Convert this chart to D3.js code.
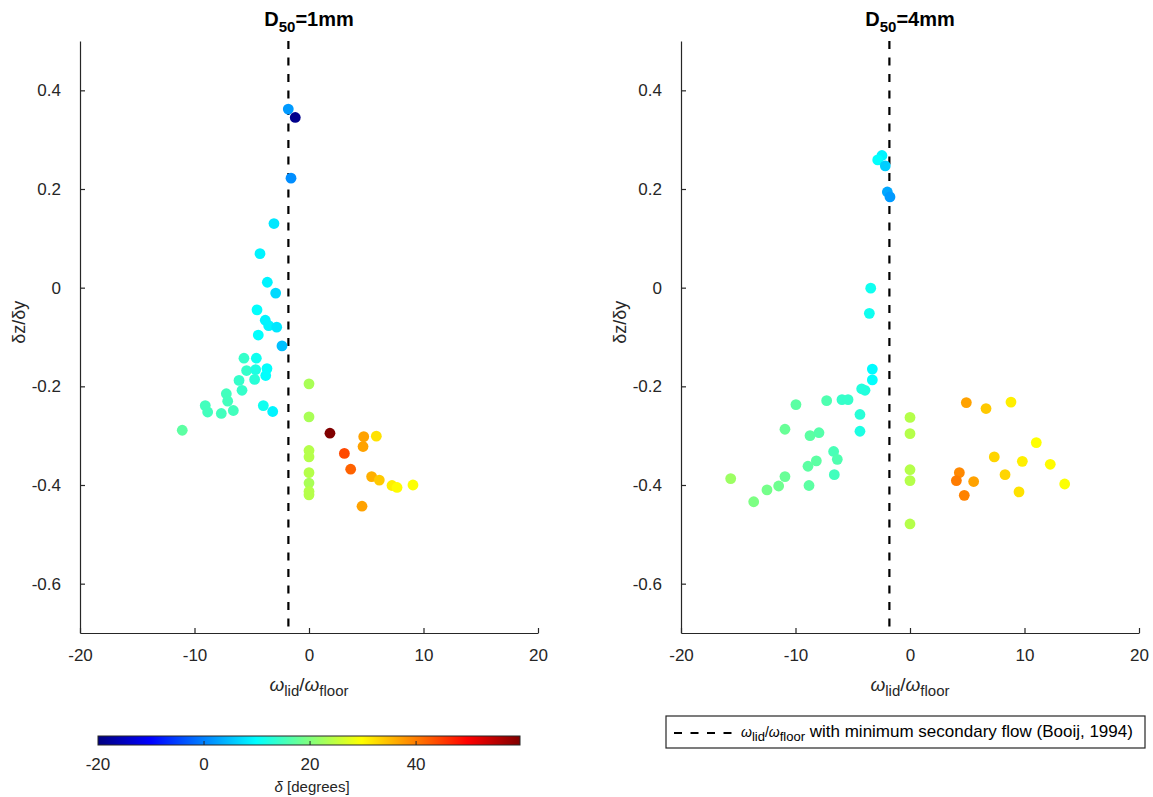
<!DOCTYPE html>
<html>
<head>
<meta charset="utf-8">
<script src="https://cdn.jsdelivr.net/npm/d3@7"></script>
<style>
  body { margin: 0; background: #fff; }
  svg { font-family: "Liberation Sans", Arial, sans-serif; }
</style>
</head>
<body>
<div id="chart"></div>
<script>
// DATA
const xTicks = [-20, -10, 0, 10, 20];
const yTicks = [0.4, 0.2, 0, -0.2, -0.4, -0.6];
const cbTicks = [-20, 0, 20, 40];
const booijLine = -1.8;

// D50 = 1mm
const d1X = [-1.81, -1.20, -1.57, -3.06, -4.28, -3.64, -2.91, -4.54, -3.82, -3.52, -2.82, -4.43, -2.36,
  -5.68, -4.60, -5.45, -4.66, -3.67, -3.78, -4.75, -6.11, -5.85, -7.22, -7.10, -6.61, -9.06, -8.85,
  -7.66, -3.99, -3.17, -11.07, 0, 0, 0, 0, 0, 0, 0, 0,
  1.83, 4.78, 5.88, 4.72, 3.09, 3.64, 5.47, 6.14, 7.25, 7.69, 9.08, 4.63];
const d1Y = [0.362, 0.345, 0.222, 0.130, 0.069, 0.011, -0.011, -0.045, -0.066, -0.077, -0.080, -0.096, -0.118,
  -0.143, -0.143, -0.168, -0.166, -0.164, -0.178, -0.186, -0.188, -0.208, -0.215, -0.230, -0.249, -0.239, -0.252,
  -0.255, -0.239, -0.251, -0.289, -0.195, -0.262, -0.330, -0.343, -0.375, -0.396, -0.413, -0.420,
  -0.295, -0.302, -0.301, -0.322, -0.336, -0.368, -0.383, -0.390, -0.401, -0.405, -0.400, -0.443];
const d1Delta = [2, -19, 1, 8, 9, 9, 7, 10, 9, 9, 8, 10, 5,
  14, 11, 14, 12, 10, 10, 13, 14, 14, 15, 15, 15, 15, 15,
  15, 11, 9, 17, 23, 23, 24, 24, 24, 23, 24, 24,
  59.6, 37, 32, 37, 44, 42, 36, 34, 31, 30, 29.5, 37];

// D50 = 4mm
const d4X = [-2.45, -2.82, -2.16, -1.98, -1.75, -3.43, -3.55, -3.29, -3.29, -4.22, -3.93, -9.96, -7.28,
  -5.94, -5.41, -4.37, -4.37, -10.92, -8.73, -7.95, -6.67, -6.35, -8.18, -8.91, -6.61, -10.92, -11.47,
  -8.82, -15.66, -12.49, -13.65, 0, 0, 0, 0, 0,
  4.92, 6.64, 8.82, 11.03, 7.36, 9.81, 12.25, 13.51, 8.30, 9.52, 4.31, 4.05, 5.56, 4.74];
const d4Y = [0.268, 0.259, 0.247, 0.194, 0.184, -0.001, -0.052, -0.165, -0.187, -0.205, -0.208, -0.237, -0.229,
  -0.227, -0.227, -0.257, -0.291, -0.287, -0.300, -0.294, -0.332, -0.348, -0.351, -0.362, -0.379, -0.383, -0.402,
  -0.401, -0.387, -0.410, -0.434, -0.263, -0.296, -0.369, -0.391, -0.479,
  -0.233, -0.245, -0.232, -0.314, -0.343, -0.352, -0.358, -0.398, -0.379, -0.414, -0.375, -0.391, -0.393, -0.421];
const d4Delta = [9, 10, 6, 3, 2, 11, 11, 9.5, 10, 12.5, 12.5, 17, 16,
  14, 14, 13, 12, 18, 17, 16.5, 15.5, 16, 17, 17, 15, 18, 18.5,
  17, 22, 19, 19.5, 24, 24, 24, 24, 24,
  37, 34, 31, 29.7, 33, 31, 30, 29.5, 33, 32, 39, 40, 37, 39.5];

const W = 1153, H = 797;
const AX_COLOR = "#262626";

const svg = d3.select("#chart").append("svg")
  .attr("width", W).attr("height", H);

svg.append("rect").attr("width", W).attr("height", H).attr("fill", "#fff");

// jet colormap (matlab style)
function jet(t) {
  t = Math.max(0, Math.min(1, t));
  const c = v => Math.round(255 * Math.max(0, Math.min(1, v)));
  const r = c(1.5 - Math.abs(4 * t - 3));
  const g = c(1.5 - Math.abs(4 * t - 2));
  const b = c(1.5 - Math.abs(4 * t - 1));
  return `rgb(${r},${g},${b})`;
}
const deltaDomain = [-20, 59.6];
const tScale = d3.scaleLinear().domain(deltaDomain).range([0, 1]);
const color = v => jet(tScale(v));

function drawPanel(x0, x1, title, xs, ys, ds) {
  const xScale = d3.scaleLinear().domain([-20, 20]).range([x0, x1]);
  const yScale = d3.scaleLinear().domain([-0.7, 0.5]).range([633, 41]);
  const g = svg.append("g");

  // axes
  const xAxis = g.append("g")
    .attr("transform", `translate(0, ${yScale(-0.7)})`)
    .call(d3.axisBottom(xScale).tickValues(xTicks).tickFormat(d => String(d))
      .tickSizeInner(-5).tickSizeOuter(0).tickPadding(16));
  const yAxis = g.append("g")
    .attr("transform", `translate(${x0}, 0)`)
    .call(d3.axisLeft(yScale).tickValues(yTicks).tickFormat(d => String(d))
      .tickSizeInner(-5).tickSizeOuter(0).tickPadding(19));
  [xAxis, yAxis].forEach(a => {
    a.select(".domain").attr("stroke", AX_COLOR).attr("stroke-width", 1.2);
    a.selectAll(".tick line").attr("stroke", AX_COLOR).attr("stroke-width", 1.2);
    a.selectAll(".tick text").attr("fill", AX_COLOR).style("font-size", "17px")
      .style("font-family", "'Liberation Sans', Arial, sans-serif");
  });

  // booij line
  g.append("line")
    .attr("x1", xScale(booijLine)).attr("x2", xScale(booijLine))
    .attr("y1", yScale(0.5)).attr("y2", yScale(-0.7))
    .attr("stroke", "#000").attr("stroke-width", 2.2)
    .attr("stroke-dasharray", "8,8.5");

  // points
  g.selectAll("circle")
    .data(xs.map((x, i) => ({ x: x, y: ys[i], d: ds[i] })))
    .enter().append("circle")
    .attr("cx", d => xScale(d.x))
    .attr("cy", d => yScale(d.y))
    .attr("r", 5.4)
    .attr("fill", d => color(d.d));

  const cx = (x0 + x1) / 2;

  // title
  const t = g.append("text").attr("x", cx).attr("y", 26)
    .attr("text-anchor", "middle").style("font-size", "20px").style("font-weight", "bold").attr("fill", "#000");
  t.append("tspan").text("D");
  t.append("tspan").attr("dy", 6).style("font-size", "15px").text("50");
  t.append("tspan").attr("dy", -6).text("=" + title);

  // x label
  const xl = g.append("text").attr("x", cx).attr("y", 691)
    .attr("text-anchor", "middle").style("font-size", "19px").attr("fill", AX_COLOR);
  xl.append("tspan").style("font-style", "italic").text("ω");
  xl.append("tspan").attr("dy", 5).style("font-size", "15px").text("lid");
  xl.append("tspan").attr("dy", -5).text("/");
  xl.append("tspan").style("font-style", "italic").text("ω");
  xl.append("tspan").attr("dy", 5).style("font-size", "15px").text("floor");

  // y label
  g.append("text")
    .attr("transform", `translate(${x0 - 55}, ${yScale(-0.07)}) rotate(-90)`)
    .attr("text-anchor", "middle").style("font-size", "18px").attr("fill", AX_COLOR)
    .text("δz/δy");
}

drawPanel(80, 538, "1mm", d1X, d1Y, d1Delta);
drawPanel(681, 1139, "4mm", d4X, d4Y, d4Delta);

// COLORBAR
const cbScale = d3.scaleLinear().domain(deltaDomain).range([98, 520]);
const grad = svg.append("defs").append("linearGradient").attr("id", "jetGrad");
d3.range(0, 1.0001, 1 / 64).forEach(s => {
  grad.append("stop").attr("offset", s).attr("stop-color", jet(s));
});
svg.append("rect")
  .attr("x", cbScale(deltaDomain[0])).attr("y", 736)
  .attr("width", cbScale(deltaDomain[1]) - cbScale(deltaDomain[0])).attr("height", 9)
  .attr("fill", "url(#jetGrad)").attr("stroke", AX_COLOR).attr("stroke-width", 1);
const cb = svg.append("g");
cb.selectAll("line").data(cbTicks.slice(1)).enter().append("line")
  .attr("x1", d => cbScale(d)).attr("x2", d => cbScale(d))
  .attr("y1", 745).attr("y2", 741).attr("stroke", AX_COLOR).attr("stroke-width", 1);
cb.selectAll("text").data(cbTicks).enter().append("text")
  .attr("x", d => cbScale(d)).attr("y", 770)
  .attr("text-anchor", "middle").style("font-size", "17px").attr("fill", AX_COLOR)
  .text(d => String(d));
const cbl = svg.append("text").attr("x", cbScale(20) + 2).attr("y", 792)
  .attr("text-anchor", "middle").style("font-size", "15px").attr("fill", AX_COLOR);
cbl.append("tspan").style("font-style", "italic").text("δ");
cbl.append("tspan").text(" [degrees]");

// LEGEND
const lg = svg.append("g");
lg.append("rect").attr("x", 666).attr("y", 716).attr("width", 479).attr("height", 32)
  .attr("fill", "#fff").attr("stroke", AX_COLOR).attr("stroke-width", 1.2);
lg.append("line").attr("x1", 674).attr("x2", 738).attr("y1", 733).attr("y2", 733)
  .attr("stroke", "#000").attr("stroke-width", 2.2).attr("stroke-dasharray", "8,8.5");
const lt = lg.append("text").attr("x", 741).attr("y", 737).style("font-size", "17px").attr("fill", "#000");
lt.append("tspan").style("font-style", "italic").style("font-size", "14px").text("ω");
lt.append("tspan").attr("dy", 4).style("font-size", "13px").text("lid");
lt.append("tspan").attr("dy", -4).style("font-size", "14px").text("/");
lt.append("tspan").style("font-style", "italic").style("font-size", "14px").text("ω");
lt.append("tspan").attr("dy", 4).style("font-size", "13px").text("floor");
lt.append("tspan").attr("dy", -4).text(" with minimum secondary flow (Booij, 1994)");
</script>
</body>
</html>
